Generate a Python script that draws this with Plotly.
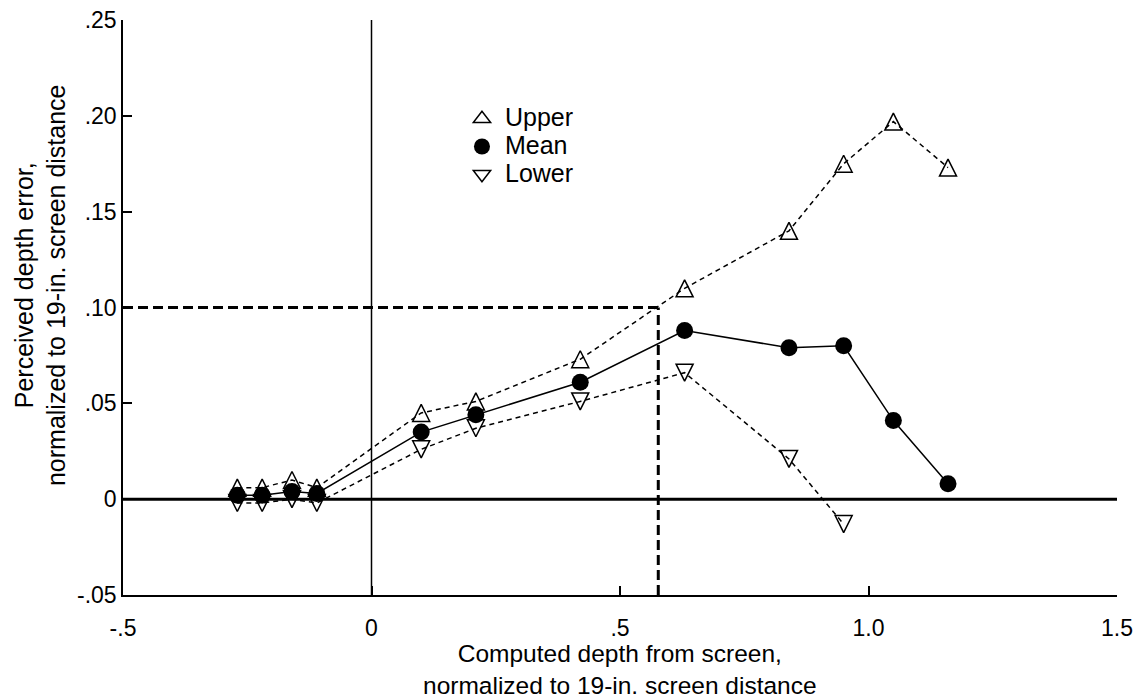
import plotly.graph_objects as go

# ---- data ----
x_vals = [-0.27, -0.22, -0.16, -0.11, 0.10, 0.21, 0.42, 0.63, 0.84, 0.95, 1.05, 1.16]
upper = [0.006, 0.006, 0.010, 0.006, 0.045, 0.051, 0.073, 0.110, 0.140, 0.175, 0.197, 0.173]
mean = [0.002, 0.002, 0.004, 0.003, 0.035, 0.044, 0.061, 0.088, 0.079, 0.080, 0.041, 0.008]
lower_x = [-0.27, -0.22, -0.16, -0.11, 0.10, 0.21, 0.42, 0.63, 0.84, 0.95]
lower = [-0.002, -0.002, 0.000, -0.002, 0.026, 0.037, 0.051, 0.066, 0.021, -0.013]

guide_x = 0.577
guide_y = 0.10

x_ticks = [-0.5, 0, 0.5, 1.0, 1.5]
x_ticktext = ["-.5", "0", ".5", "1.0", "1.5"]
y_ticks = [-0.05, 0, 0.05, 0.10, 0.15, 0.20, 0.25]
y_ticktext = ["-.05", "0", ".05", ".10", ".15", ".20", ".25"]

FONT = "Liberation Sans, Arial, Helvetica, sans-serif"
TRI = 17
UP_MARKER = dict(symbol="arrow-down-open", angle=180, standoff=TRI / 2, size=TRI, color="black",
                 line=dict(width=1.5, color="black"))
DOWN_MARKER = dict(symbol="arrow-down-open", angle=0, standoff=TRI / 2, size=TRI, color="black",
                   line=dict(width=1.5, color="black"))
MEAN_MARKER = dict(symbol="circle", size=17, color="black")
UP_KEY = dict(symbol="triangle-up-open", size=15, color="black", line=dict(width=1.5, color="black"))
DOWN_KEY = dict(symbol="triangle-down-open", size=15, color="black", line=dict(width=1.5, color="black"))

fig = go.Figure()

# reference lines
fig.add_shape(type="line", x0=0, x1=0, y0=-0.05, y1=0.25, xref="x", yref="y",
              line=dict(color="black", width=1.5), layer="below")
fig.add_shape(type="line", x0=-0.5, x1=1.5, y0=0, y1=0, xref="x", yref="y",
              line=dict(color="black", width=3), layer="below")
fig.add_shape(type="line", x0=-0.5, x1=guide_x, y0=guide_y, y1=guide_y,
              line=dict(color="black", width=3, dash="10px,5px"), layer="below")
fig.add_shape(type="line", x0=guide_x, x1=guide_x, y0=-0.05, y1=guide_y,
              line=dict(color="black", width=3, dash="10px,5px"), layer="below")

fig.add_trace(go.Scatter(x=x_vals, y=upper, mode="lines+markers", showlegend=False,
                         line=dict(color="black", width=1.5, dash="5px,4px"),
                         marker=UP_MARKER))
fig.add_trace(go.Scatter(x=lower_x, y=lower, mode="lines+markers", showlegend=False,
                         line=dict(color="black", width=1.5, dash="5px,4px"),
                         marker=DOWN_MARKER))
fig.add_trace(go.Scatter(x=x_vals, y=mean, mode="lines+markers", showlegend=False,
                         line=dict(color="black", width=1.5),
                         marker=MEAN_MARKER))

# legend entries (markers only)
LBL = "<span style='font-size:25px'>{}</span>"
fig.add_trace(go.Scatter(x=[None], y=[None], mode="markers", name=LBL.format("Upper"),
                         marker=UP_KEY))
fig.add_trace(go.Scatter(x=[None], y=[None], mode="markers", name=LBL.format("Mean"),
                         marker=MEAN_MARKER))
fig.add_trace(go.Scatter(x=[None], y=[None], mode="markers", name=LBL.format("Lower"),
                         marker=DOWN_KEY))

fig.add_annotation(text="Computed depth from screen,<br>normalized to 19-in. screen distance",
                   xref="paper", yref="paper", x=0.5, y=-0.1304, xanchor="center", yanchor="middle",
                   showarrow=False, font=dict(size=24.5))
fig.add_annotation(text="Perceived depth error,<br>normalized to 19-in. screen distance",
                   xref="paper", yref="paper", x=-0.0835, y=0.539, xanchor="center", yanchor="middle",
                   textangle=-90, showarrow=False, font=dict(size=25))

fig.update_layout(
    width=1140, height=692,
    margin=dict(l=115, r=31, t=12, b=105),
    paper_bgcolor="white", plot_bgcolor="white",
    font=dict(family=FONT, size=23, color="black"),
    legend=dict(x=0.338, y=0.861, xanchor="left", yanchor="top", itemwidth=36,
                font=dict(size=19), bgcolor="rgba(0,0,0,0)"),
    xaxis=dict(range=[-0.5, 1.5], tickvals=x_ticks, ticktext=x_ticktext,
               ticks="inside", ticklen=9, tickwidth=1.5, tickcolor="black",
               ticklabelstandoff=12, ticklabeloverflow="allow", automargin=False,
               showline=True, linecolor="black", linewidth=1.5,
               showgrid=False, zeroline=False),
    yaxis=dict(range=[-0.05, 0.25], tickvals=y_ticks, ticktext=y_ticktext,
               ticks="inside", ticklen=9, tickwidth=1.5, tickcolor="black",
               ticklabeloverflow="allow", automargin=False,
               showline=True, linecolor="black", linewidth=1.5,
               showgrid=False, zeroline=False),
)

fig.write_html("out.html")
